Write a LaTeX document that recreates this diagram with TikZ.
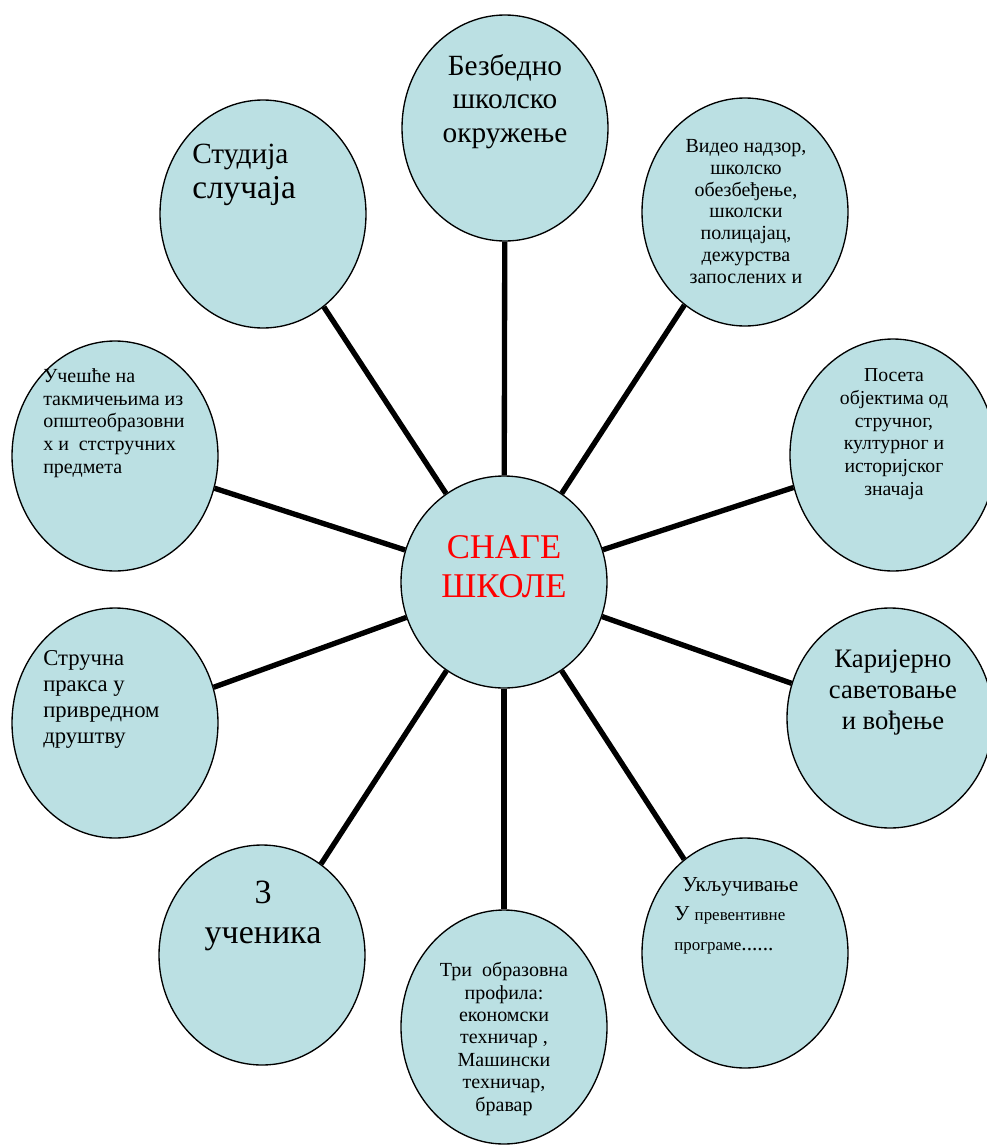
\documentclass[tikz,border=0pt]{standalone}
\usepackage{fontspec}
\setmainfont{Liberation Serif}
\usetikzlibrary{shapes.geometric}
\definecolor{ideablue}{RGB}{187,224,227}

\begin{document}
\begin{tikzpicture}[x=0.75pt,y=-0.75pt,
  spoke/.style={line width=4pt},
  idea node/.style={ellipse,draw,line width=1pt,fill=ideablue,inner sep=0pt,minimum width=154.5pt},
  idea text/.style={inner sep=0pt,align=center,anchor=base},
  left text/.style={inner sep=0pt,align=left,anchor=base west}]
  \useasboundingbox (0,0) rectangle (987,1146);
  % ellipses
  \node[idea node,minimum height=159pt] (core) at (504,582) {};
  \node[idea node,minimum height=169.5pt] (safe) at (505,128) {};
  \node[idea node,minimum height=171pt] (video) at (745,212) {};
  \node[idea node,minimum height=174pt] (visit) at (893,455) {};
  \node[idea node,minimum height=165pt] (career) at (890,718) {};
  \node[idea node,minimum height=172.5pt] (prevent) at (745,953) {};
  \node[idea node,minimum height=175.5pt] (profile) at (504,1027) {};
  \node[idea node,minimum height=165pt] (pupils) at (262,955) {};
  \node[idea node,minimum height=172.5pt] (practice) at (115,723) {};
  \node[idea node,minimum height=172.5pt] (contest) at (115,456) {};
  \node[idea node,minimum height=171pt] (study) at (263,214) {};

  \path[spoke]
    (core) edge (safe)
    (core) edge (video)
    (core) edge (visit)
    (core) edge (career)
    (core) edge (prevent)
    (core) edge (profile)
    (core) edge (pupils)
    (core) edge (practice)
    (core) edge (contest)
    (core) edge (study);

  % texts (placed at the baseline of their last line)
  \node[idea text,text=red,font=\fontsize{26}{29}\selectfont] (coret) at (504,597) {СНАГЕ\\ШКОЛЕ};
  \node[idea text,font=\fontsize{22}{25}\selectfont] (safet) at (505,142) {Безбедно\\школско\\окружење};
  \node[idea text,font=\fontsize{15}{16.3}\selectfont] (videot) at (746,283) {Видео надзор,\\школско\\обезбеђење,\\школски\\полицајац,\\дежурства\\запослених и};
  \node[idea text,font=\fontsize{14.8}{17}\selectfont] (visitt) at (894,495) {Посета\\објектима од\\стручног,\\културног и\\историјског\\значаја};
  \node[idea text,font=\fontsize{20}{23}\selectfont] (careert) at (893,729) {Каријерно\\саветовање\\и вођење};
  \node[left text,font=\fontsize{16}{22}\selectfont] (preventt) at (674,950) {\hspace{6pt}Укључивање\\У {\fontsize{12.7}{22}\selectfont превентивне}\\{\fontsize{12.7}{20}\selectfont програме}......};
  \node[idea text,font=\fontsize{15}{16.8}\selectfont] (profilet) at (504,1111) {Три\ \ образовна\\профила:\\економски\\техничар ,\\Машински\\техничар,\\бравар};
  \node[idea text,font=\fontsize{25.5}{30}\selectfont] (pupilst) at (263,943) {3\\ученика};
  \node[left text,font=\fontsize{17}{19.3}\selectfont] (practicet) at (43,743) {Стручна\\пракса у\\привредном\\друштву};
  \node[left text,font=\fontsize{15}{17}\selectfont] (contestt) at (43,473) {Учешће на\\такмичењима из\\општеобразовни\\х и\ \ стстручних\\предмета};
  \node[left text,font=\fontsize{25}{26}\selectfont] (studyt) at (192,198) {{\fontsize{22}{26}\selectfont Студија}\\случаја};
\end{tikzpicture}
\end{document}
